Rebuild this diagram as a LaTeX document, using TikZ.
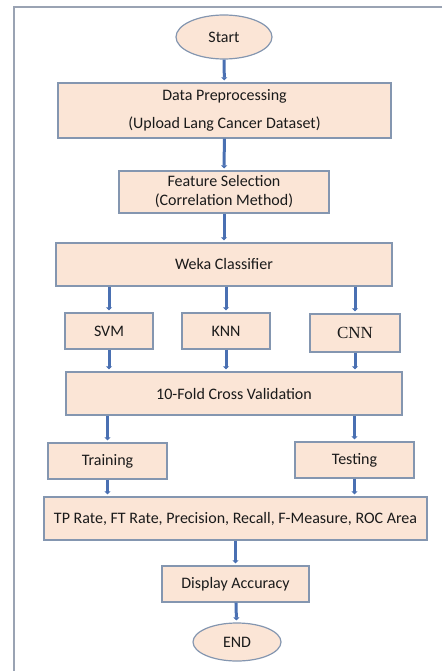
\documentclass[tikz,border=0pt]{standalone}
\usepackage{fontspec}
\setmainfont{Carlito}
\newfontfamily\timesfont{Liberation Serif}
\usetikzlibrary{shapes.geometric, arrows.meta}
\definecolor{peach}{HTML}{FBE5D6}
\definecolor{boxline}{HTML}{8496B0}
\definecolor{arrowblue}{HTML}{4A70B2}
\definecolor{textgrey}{HTML}{1A1A1A}
\definecolor{frameline}{HTML}{9AA3B3}

\begin{document}
\begin{tikzpicture}[x=1pt, y=-1pt,
    stage/.style={draw=boxline, fill=peach, line width=1.2pt, inner sep=0pt, align=center, text=textgrey, font=\fontsize{16}{19}\selectfont},
    term/.style={stage, ellipse},
    flow/.style={draw=arrowblue, line width=3pt, -{Triangle[width=6pt, length=3pt]}, shorten >=2pt}]
    \useasboundingbox (0, 0) rectangle (442, 671);
    \draw[frameline, line width=1.4pt] (442, 7) -- (14, 7) -- (14, 671);
    \node[term, minimum width=96, minimum height=44] (start) at (224, 37) {Start};
    \node[stage, minimum width=333, minimum height=55] (prep) at (224.5, 110.5) {Data Preprocessing\\[9pt](Upload Lang Cancer Dataset)};
    \node[stage, minimum width=210, minimum height=42] (feat) at (224, 192) {Feature Selection\\(Correlation Method)};
    \node[stage, minimum width=336, minimum height=43] (weka) at (224, 264.5) {Weka Classifier};
    \node[stage, minimum width=88, minimum height=36] (svm) at (109, 331) {SVM};
    \node[stage, minimum width=88, minimum height=36] (knn) at (226, 331) {KNN};
    \node[stage, minimum width=90, minimum height=38, font=\timesfont\fontsize{17}{19}\selectfont] (cnn) at (355, 333) {CNN};
    \node[stage, minimum width=336, minimum height=43] (cv) at (234, 393.5) {10-Fold Cross Validation};
    \node[stage, minimum width=119, minimum height=36] (train) at (107.5, 461) {Training};
    \node[stage, minimum width=119, minimum height=36] (test) at (354.5, 460) {Testing};
    \node[stage, minimum width=383, minimum height=43] (metrics) at (235.5, 518.5) {TP Rate, FT Rate, Precision, Recall, F-Measure, ROC Area};
    \node[stage, minimum width=147, minimum height=36] (disp) at (235.5, 584) {Display Accuracy};
    \node[term, minimum width=88, minimum height=38] (end) at (237, 642) {END};
    \draw[flow] (start) -- (prep);
    \draw[flow] (prep) -- (feat);
    \draw[flow] (feat) -- (weka);
    \draw[flow] (svm.north |- weka.south) -- (svm.north);
    \draw[flow] (knn.north |- weka.south) -- (knn.north);
    \draw[flow] (cnn.north |- weka.south) -- (cnn.north);
    \draw[flow] (svm.south) -- (svm.south |- cv.north);
    \draw[flow] (knn.south) -- (knn.south |- cv.north);
    \draw[flow] (cnn.south) -- (cnn.south |- cv.north);
    \draw[flow] (train.north |- cv.south) -- (train.north);
    \draw[flow] (test.north |- cv.south) -- (test.north);
    \draw[flow] (train.south) -- (train.south |- metrics.north);
    \draw[flow] (test.south) -- (test.south |- metrics.north);
    \draw[flow] (metrics.south -| disp) -- (disp.north);
    \draw[flow] (disp) -- (end);
\end{tikzpicture}
\end{document}
